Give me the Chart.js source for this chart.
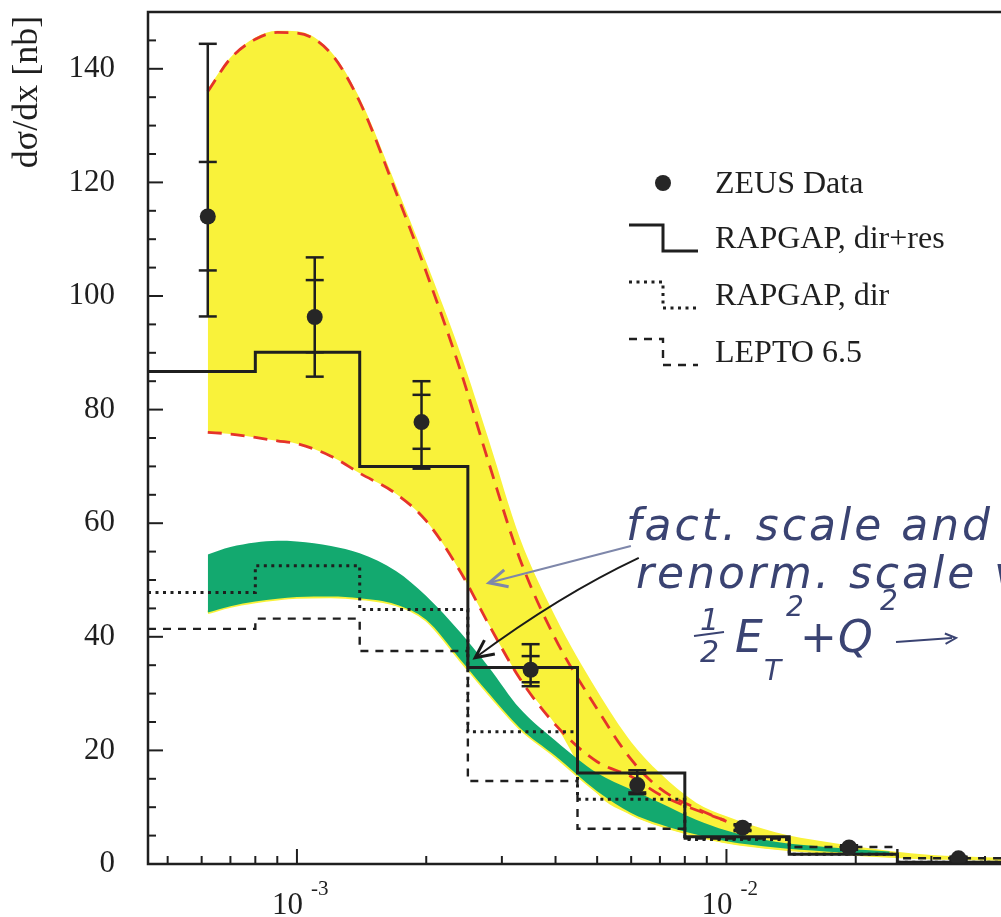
<!DOCTYPE html>
<html>
<head>
<meta charset="utf-8">
<script src="https://cdn.jsdelivr.net/npm/chart.js@4.4.1/dist/chart.umd.min.js"></script>
<style>
  html, body { margin: 0; padding: 0; background: #fff; overflow: hidden; }
  #wrap { width: 1015px; height: 917px; position: relative; }
</style>
</head>
<body>
<div id="wrap"><canvas id="c"></canvas></div>
<script>
// histogram bin edges (x) and MC predictions per bin
const binEdges = [4.5e-4, 8e-4, 1.4e-3, 2.5e-3, 4.5e-3, 8e-3, 1.4e-2, 2.5e-2, 4.5e-2];
const rapgapDirRes = [86.7, 90.1, 70.0, 34.6, 16.0, 4.8, 1.7, 0.3];
const rapgapDir = [47.8, 52.5, 44.8, 23.3, 11.4, 4.3, 1.7, 0.3];
const lepto = [41.4, 43.2, 37.5, 14.6, 6.2, 4.5, 3.0, 1.0];

// ZEUS data points with inner (stat) and outer (total) errors
const zeusX = [6.2e-4, 1.1e-3, 1.95e-3, 3.5e-3, 6.2e-3, 1.09e-2, 1.93e-2, 3.47e-2];
const zeusY = [114.0, 96.3, 77.8, 34.2, 13.9, 6.4, 2.9, 1.0];
const statLo = [104.5, 90.1, 73.1, 32.0, 12.6, 6.0, 2.6, 0.8];
const statHi = [123.6, 102.8, 82.6, 36.6, 15.9, 6.8, 3.2, 1.2];
const totLo = [96.4, 85.8, 69.6, 31.3, 12.3, 5.8, 2.5, 0.7];
const totHi = [144.4, 106.8, 85.0, 38.7, 16.5, 7.0, 3.3, 1.3];

// NLO bands (scale variations), sampled at bandX
const bandX = [6.2e-4, 7e-4, 8e-4, 9e-4, 1e-3, 1.2e-3, 1.4e-3, 1.7e-3, 2e-3, 2.4e-3, 2.8e-3, 3.3e-3,
               4e-3, 5e-3, 6e-3, 7e-3, 8.5e-3, 1e-2, 1.3e-2, 1.7e-2, 2.4e-2, 3e-2, 4e-2, 4.5e-2];
const yellowUpper = [136.5, 142, 145.5, 146.7, 146.6, 143, 134.8, 119.5, 106, 90, 74.5, 57.5,
                     43.5, 30.5, 21.5, 16, 10.8, 8.4, 5.6, 3.9, 2.3, 1.6, 1.2, 1.1];
const yellowLower = [76.0, 75.7, 75.1, 74.5, 74.0, 71.8, 68.8, 65.2, 60.4, 51.5, 42.1, 32.7,
                     24.5, 12.4, 8.6, 6.6, 4.8, 3.6, 2.5, 1.8, 1.1, 0.8, 0.6, 0.5];
const redUpper = [136, 141.8, 145.2, 146.4, 146.3, 142.7, 134.2, 118.3, 104.2, 87, 70.5, 53.8,
                  39.6, 27.3, 18.4, 13.3, 9.8, 7.5, null, null, null, null, null, null];
const redLower = [76.0, 75.7, 75.1, 74.5, 74.0, 71.8, 68.8, 65.2, 60.4, 51.5, 42.1, 32.7,
                  24.5, 18.0, 15.4, 12.2, 9.5, 7.6, null, null, null, null, null, null];
const greenUpper = [54.5, 55.8, 56.6, 56.9, 56.8, 56.0, 54.7, 51.6, 47.2, 40.8, 34.6, 27.4,
                    21.7, 16.0, 13.1, 10.8, 7.8, 5.9, 3.9, 3.0, 2.2, null, null, null];
const greenLower = [44.3, 45.4, 46.2, 46.7, 47.0, 47.1, 46.8, 45.7, 43.0, 36.0, 30.0, 24.0,
                    19.0, 12.8, 9.0, 7.0, 5.2, 4.0, 2.9, 2.2, 1.5, null, null, null];

const xLabelDecades = [1e-3, 1e-2];
const legendNames = ['ZEUS Data', 'RAPGAP, dir+res', 'RAPGAP, dir', 'LEPTO 6.5'];

const SERIF = '"Liberation Serif", "Times New Roman", serif';
const INK = '#1f1f1f';
const YELLOW = '#f9f23a';
const GREEN = '#13a96f';
const RED = '#e5332a';

function histPoints(vals) {
    return binEdges.map((e, i) => ({ x: e, y: vals[Math.min(i, vals.length - 1)] }));
}
function curve(ys) {
    return bandX.map((x, i) => ({ x: x, y: ys[i] }));
}

const NONE = 'rgba(0,0,0,0)';

const datasets = [
    { label: 'ZEUS Data', data: zeusX.map((x, i) => ({ x: x, y: zeusY[i] })), showLine: false,
      pointRadius: 8, pointBackgroundColor: '#262626', pointBorderWidth: 0, borderColor: NONE, order: 1 },
    { label: 'RAPGAP, dir+res', data: histPoints(rapgapDirRes), stepped: true, borderColor: INK,
      borderWidth: 3, pointRadius: 0, fill: false, order: 2 },
    { label: 'RAPGAP, dir', data: histPoints(rapgapDir), stepped: true, borderColor: INK,
      borderWidth: 3, borderDash: [3, 4.5], pointRadius: 0, fill: false, order: 3 },
    { label: 'LEPTO 6.5', data: histPoints(lepto), stepped: true, borderColor: INK,
      borderWidth: 2.4, borderDash: [8, 7], pointRadius: 0, fill: false, order: 4 },
    { label: 'scale up', data: curve(redUpper), borderColor: RED, borderWidth: 2.8, borderDash: [14, 9],
      cubicInterpolationMode: 'monotone', pointRadius: 0, fill: false, order: 5 },
    { label: 'scale down', data: curve(redLower), borderColor: RED, borderWidth: 2.8, borderDash: [14, 9],
      cubicInterpolationMode: 'monotone', pointRadius: 0, fill: false, order: 6 },
    { label: 'green up', data: curve(greenUpper), borderColor: NONE, borderWidth: 1, backgroundColor: GREEN,
      fill: '+1', cubicInterpolationMode: 'monotone', pointRadius: 0, order: 7 },
    { label: 'green down', data: curve(greenLower), borderColor: YELLOW, borderWidth: 3.5,
      fill: false, cubicInterpolationMode: 'monotone', pointRadius: 0, order: 8 },
    { label: 'yellow up', data: curve(yellowUpper), borderColor: NONE, borderWidth: 1, backgroundColor: YELLOW,
      fill: '+1', cubicInterpolationMode: 'monotone', pointRadius: 0, order: 9 },
    { label: 'yellow down', data: curve(yellowLower), borderColor: NONE, borderWidth: 1,
      fill: false, cubicInterpolationMode: 'monotone', pointRadius: 0, order: 10 }
];

// hand-written note, arrows in data coordinates
const arrows = [
    { from: [5.99e-3, 56.0], to: [2.80e-3, 49.5], ctrl: null, color: '#7e87aa', width: 2 },
    { from: [6.25e-3, 53.9], to: [2.60e-3, 36.3], ctrl: [4.08e-3, 47.3], color: '#1a1a1a', width: 2 }
];

function drawArrowHead(c, tipX, tipY, fromX, fromY, size) {
    const a = Math.atan2(tipY - fromY, tipX - fromX);
    c.beginPath();
    c.moveTo(tipX - size * Math.cos(a - 0.45), tipY - size * Math.sin(a - 0.45));
    c.lineTo(tipX, tipY);
    c.lineTo(tipX - size * Math.cos(a + 0.45), tipY - size * Math.sin(a + 0.45));
    c.stroke();
}

const decorations = {
    id: 'decorations',
    beforeDatasetDraw(chart, args) {
        if (args.index !== 0) return;
        // error bars under the markers
        const c = chart.ctx, xs = chart.scales.x, ys = chart.scales.y;
        c.save();
        c.strokeStyle = INK;
        c.lineWidth = 2.5;
        zeusX.forEach((x, i) => {
            const px = xs.getPixelForValue(x);
            c.beginPath();
            c.moveTo(px, ys.getPixelForValue(totLo[i]));
            c.lineTo(px, ys.getPixelForValue(totHi[i]));
            c.stroke();
            [totLo[i], totHi[i], statLo[i], statHi[i]].forEach(v => {
                const py = ys.getPixelForValue(v);
                c.beginPath();
                c.moveTo(px - 9, py);
                c.lineTo(px + 9, py);
                c.stroke();
            });
        });
        c.restore();
    },
    afterDraw(chart) {
        const c = chart.ctx, xs = chart.scales.x, ys = chart.scales.y;
        const a = chart.chartArea;
        c.save();
        c.strokeStyle = INK;
        c.fillStyle = INK;

        // frame
        c.lineWidth = 2.5;
        c.beginPath();
        c.moveTo(a.left, a.top);
        c.lineTo(a.left, a.bottom);
        c.lineTo(a.right, a.bottom);
        c.lineTo(a.right, a.top);
        c.closePath();
        c.stroke();

        // y ticks, pointing inward
        c.lineWidth = 2;
        for (let v = 5; v < 150; v += 5) {
            const py = ys.getPixelForValue(v);
            c.beginPath();
            c.moveTo(a.left, py);
            c.lineTo(a.left + (v % 20 === 0 ? 15 : 8), py);
            c.stroke();
        }
        // x ticks (log)
        for (let d = 1e-4; d < 1; d *= 10) {
            for (let k = 1; k <= 9; k++) {
                const v = k * d;
                if (v <= xs.min * 1.001 || v >= xs.max) continue;
                const px = xs.getPixelForValue(v);
                c.beginPath();
                c.moveTo(px, a.bottom);
                c.lineTo(px, a.bottom - (k === 1 ? 15 : 8));
                c.stroke();
            }
        }

        // x tick labels 10^-n
        c.textBaseline = 'alphabetic';
        c.textAlign = 'left';
        xLabelDecades.forEach(v => {
            const px = xs.getPixelForValue(v);
            c.font = '31px ' + SERIF;
            c.fillText('10', px - 25, 914);
            c.font = '21px ' + SERIF;
            c.fillText('-' + Math.round(-Math.log10(v)), px + 14, 895);
        });

        // y axis title
        c.save();
        c.translate(28, 92);
        c.rotate(-Math.PI / 2);
        c.textAlign = 'center';
        c.textBaseline = 'middle';
        c.font = '36px ' + SERIF;
        c.fillText('d\u03c3/dx [nb]', 0, 0);
        c.restore();

        // legend
        c.font = '32px ' + SERIF;
        c.textAlign = 'left';
        const rowY = [183, 238, 295, 352];
        legendNames.forEach((name, i) => {
            const y = rowY[i];
            c.fillText(name, 715, y + 10);
            if (i === 0) {
                c.beginPath();
                c.arc(663, y, 8, 0, Math.PI * 2);
                c.fillStyle = '#262626';
                c.fill();
                c.fillStyle = INK;
                return;
            }
            const ds = chart.data.datasets[i];
            c.save();
            c.lineWidth = ds.borderWidth;
            c.setLineDash(ds.borderDash || []);
            c.beginPath();
            c.moveTo(629, y - 13);
            c.lineTo(663, y - 13);
            c.lineTo(663, y + 13);
            c.lineTo(698, y + 13);
            c.stroke();
            c.restore();
        });

        // arrows
        arrows.forEach(ar => {
            const fx = xs.getPixelForValue(ar.from[0]), fy = ys.getPixelForValue(ar.from[1]);
            const tx = xs.getPixelForValue(ar.to[0]), ty = ys.getPixelForValue(ar.to[1]);
            c.strokeStyle = ar.color;
            c.lineWidth = ar.width;
            c.beginPath();
            c.moveTo(fx, fy);
            let bx = fx, by = fy;
            if (ar.ctrl) {
                bx = xs.getPixelForValue(ar.ctrl[0]);
                by = ys.getPixelForValue(ar.ctrl[1]);
                c.quadraticCurveTo(bx, by, tx, ty);
            } else {
                c.lineTo(tx, ty);
            }
            c.stroke();
            c.lineWidth = ar.width + 1;
            drawArrowHead(c, tx, ty, bx, by, 20);
        });

        // hand-written note
        c.fillStyle = '#3a4372';
        c.strokeStyle = '#3a4372';
        c.font = 'italic 44px "DejaVu Sans", sans-serif';
        c.letterSpacing = '3px';
        c.fillText('fact. scale and', 626, 540);
        c.fillText('renorm. scale v', 636, 588);
        c.letterSpacing = '0px';
        c.font = 'italic 30px "DejaVu Sans", sans-serif';
        c.fillText('1', 700, 630);
        c.fillText('2', 700, 662);
        c.lineWidth = 2;
        c.beginPath();
        c.moveTo(694, 636);
        c.lineTo(724, 632);
        c.stroke();
        c.font = 'italic 44px "DejaVu Sans", sans-serif';
        c.fillText('E', 735, 652);
        c.font = 'italic 28px "DejaVu Sans", sans-serif';
        c.fillText('T', 764, 680);
        c.fillText('2', 786, 616);
        c.font = 'italic 44px "DejaVu Sans", sans-serif';
        c.fillText('+', 800, 652);
        c.fillText('Q', 838, 652);
        c.font = 'italic 28px "DejaVu Sans", sans-serif';
        c.fillText('2', 880, 610);
        c.beginPath();
        c.moveTo(896, 642);
        c.lineTo(952, 638);
        c.stroke();
        drawArrowHead(c, 956, 638, 896, 642, 12);

        c.restore();
    }
};

new Chart(document.getElementById('c'), {
    type: 'line',
    data: { datasets: datasets },
    options: {
        animation: false,
        responsive: true,
        maintainAspectRatio: false,
        layout: { padding: { top: 12, right: 6, left: 0, bottom: 0 } },
        plugins: { legend: { display: false }, tooltip: { enabled: false } },
        scales: {
            x: {
                type: 'logarithmic',
                min: 4.5e-4,
                max: 4.5e-2,
                grid: { display: false },
                border: { display: false },
                ticks: { display: false },
                afterFit(s) { s.height = 53; s.paddingLeft = 0; s.paddingRight = 0; }
            },
            y: {
                min: 0,
                max: 150,
                grid: { display: false, drawTicks: false },
                border: { display: false },
                ticks: {
                    stepSize: 20,
                    includeBounds: false,
                    padding: 33,
                    color: INK,
                    font: { family: SERIF, size: 31 },
                    callback: v => (v % 20 === 0 ? v : '')
                },
                afterFit(s) { s.width = 148; s.paddingTop = 0; s.paddingBottom = 0; }
            }
        }
    },
    plugins: [decorations]
});
</script>
</body>
</html>
